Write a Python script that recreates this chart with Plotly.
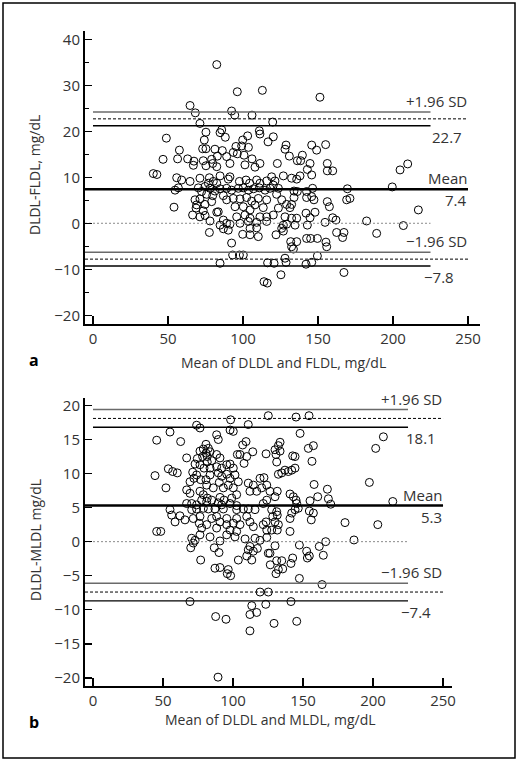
import plotly.graph_objects as go

# ---------------- Panel a data: (mean of DLDL & FLDL, DLDL-FLDL) ----------------
A_X = [82.5, 96.2, 112.9, 64.7, 68.2, 92.4, 94.5, 106.0, 71.3, 75.3, 85.8, 84.7, 88.2, 110.9, 111.3,
       103.1, 99.8, 116.7, 48.9, 74.2, 73.1, 75.3, 81.3, 86.2, 95.3, 99.1, 103.6, 57.6, 46.7, 56.4,
       63.1, 67.3, 73.5, 79.1, 82.9, 89.1, 93.5, 96.2, 100.7, 106.0, 66.9, 75.3, 79.8, 82.5, 91.3,
       101.3, 108.0, 111.3, 40.2, 42.6, 84.7,
       151.3, 119.8, 120.2, 128.7, 128.0, 145.8, 149.1, 155.1, 130.9, 139.6, 122.9, 136.2, 138.4,
       144.7, 156.2, 142.9, 156.2, 159.8, 204.7, 209.8,
       55.8, 59.1, 64.7, 71.3, 77.6, 80.2, 76.9, 82.5, 90.2, 91.3, 97.6, 102.0, 104.4, 109.1, 111.3,
       115.8, 54.7, 56.9, 70.2, 74.7, 72.4, 78.0, 81.3, 84.7, 89.1, 92.4, 96.9, 100.2, 103.6, 107.0,
       110.9, 114.7, 68.0, 71.3, 75.8, 79.8, 69.1, 74.7, 79.1, 86.9, 89.1, 93.5, 98.0, 102.4, 105.8,
       110.2, 115.8, 54.0, 68.7, 73.5, 83.5, 94.7, 100.2, 104.7, 108.0, 113.5, 66.4, 71.3, 74.7,
       78.0, 82.5, 86.9, 89.1, 95.8, 101.3, 104.7, 111.3, 115.8, 84.7, 91.3, 98.0, 103.6, 109.1,
       115.8, 86.9, 90.2, 104.7, 109.1, 77.6, 99.8, 104.7, 110.2, 92.4, 93.1, 97.6, 100.2, 84.7,
       116.4, 114.0, 116.2,
       119.1, 121.3, 120.2, 118.0, 123.6, 126.9, 132.4, 135.8, 138.0, 145.8, 134.0, 136.2, 142.4,
       146.4, 169.6, 199.5, 122.4, 125.8, 129.1, 132.4, 134.0, 142.4, 145.8, 147.3, 156.2, 157.6,
       169.1, 171.3, 131.3, 123.6, 120.2, 128.0, 132.4, 135.8, 142.0, 148.0, 144.7, 159.8, 162.0,
       154.7, 182.4, 216.9, 126.9, 129.1, 134.7, 142.9, 125.8, 126.9, 122.0, 189.1, 206.9, 162.4,
       167.3, 166.4, 142.4, 145.1, 149.6, 155.3, 155.8, 131.8, 135.8, 132.4, 133.6, 128.0, 128.7,
       120.7, 142.0, 145.8, 149.6, 125.3, 167.3]
A_Y = [34.5, 28.6, 28.9, 25.6, 24.0, 24.4, 23.5, 23.5, 21.7, 19.8, 20.3, 19.7, 18.7, 20.1, 19.4,
       19.0, 18.1, 17.7, 18.5, 18.1, 16.2, 16.2, 16.1, 15.8, 16.7, 16.8, 16.5, 15.9, 13.9, 14.0,
       14.0, 13.5, 13.6, 13.9, 14.6, 14.5, 15.4, 15.1, 14.8, 14.0, 12.6, 12.5, 13.0, 12.3, 13.0,
       12.7, 12.2, 13.0, 10.8, 10.6, 10.3,
       27.4, 22.0, 18.8, 17.0, 16.1, 17.0, 15.9, 17.1, 14.6, 14.8, 13.0, 13.6, 13.6,
       13.0, 13.0, 11.7, 11.4, 11.4, 11.6, 12.9,
       9.9, 9.4, 9.1, 9.8, 9.9, 9.1, 8.7, 8.7, 9.6, 10.1, 9.1, 9.4, 8.7, 9.4, 8.7,
       9.2, 7.2, 7.7, 7.7, 8.0, 6.9, 7.6, 7.0, 7.5, 7.6, 7.2, 7.6, 7.7, 7.2, 7.5,
       7.7, 7.2, 5.1, 5.3, 6.3, 6.0, 4.0, 4.1, 4.7, 6.0, 5.1, 5.4, 5.3, 5.6, 4.8,
       5.4, 5.1, 3.5, 3.3, 2.7, 2.5, 3.6, 3.6, 2.9, 4.0, 3.4, 1.8, 1.4, 1.7,
       0.5, 2.4, 0.7, 0.0, 1.4, 1.8, 1.1, 1.4, 1.4, -0.4, -0.2, 0.0, 0.4, 0.2,
       0.4, -1.2, -1.5, -1.1, -1.0, -2.0, -2.4, -2.5, -2.9, -4.3, -6.9, -6.9, -6.9, -8.7,
       -8.6, -12.7, -13.0,
       10.1, 9.2, 8.3, 7.6, 7.6, 10.3, 9.8, 9.6, 10.3, 10.5, 7.0, 6.9, 6.9,
       7.6, 7.5, 7.9, 6.3, 5.1, 4.1, 4.1, 5.6, 5.6, 5.8, 5.1, 4.7, 3.6,
       5.1, 5.4, 3.4, 3.3, 1.8, 1.4, 1.1, 1.1, 2.2, 2.4, 1.2, 1.2, 0.7,
       0.2, 0.5, 2.9, -0.4, -0.2, -0.4, -0.4, -1.1, -1.7, -2.5, -2.2, -0.5, -2.0,
       -2.0, -3.1, -3.3, -3.3, -3.3, -4.1, -5.1, -4.0, -4.0, -5.1, -5.6, -7.6, -8.5,
       -8.7, -8.9, -8.5, -7.1, -11.2, -10.7]

# ---------------- Panel b data: (mean of DLDL & MLDL, DLDL-MLDL) ----------------
B_X = [125.2, 98.3, 74.0, 76.4, 97.9, 100.2, 110.9, 55.0, 45.5, 62.6, 88.3, 89.5, 109.3, 106.9,
       80.7, 78.8, 82.4, 76.4, 80.7, 83.6, 78.3, 81.6, 74.5, 88.3, 90.7, 84.8, 81.6, 72.9, 76.4,
       79.3, 83.6, 88.3, 91.9, 95.5, 97.9, 100.2, 103.1, 105.0, 109.8, 114.1, 123.6, 107.9, 66.9,
       53.8, 56.9, 60.2, 44.3, 71.2, 74.0, 72.1, 76.9, 69.3, 80.7, 83.6, 89.5, 91.9, 90.2, 95.5,
       97.9, 101.4, 103.8, 96.6, 100.2, 93.1, 85.9, 81.2, 76.4, 78.8, 81.6, 77.6, 84.8, 90.7, 93.6,
       99.1, 102.6, 52.1, 66.9, 69.3, 110.9, 114.5, 112.1, 116.9, 120.5, 124.1, 119.3, 122.1,
       124.1, 121.6, 66.9, 70.5, 74.0, 81.2, 89.5, 91.9, 97.9, 102.6, 70.5, 74.0, 78.8, 82.4, 87.1,
       93.1, 102.6, 107.4, 110.9, 115.7, 55.0, 56.2, 58.6, 62.1, 65.7, 71.6, 76.4, 75.9, 81.2,
       84.8, 88.3, 90.7, 95.5, 95.5, 100.2, 102.6, 105.0, 109.8, 112.1, 114.5, 123.6, 124.1, 121.6,
       77.6, 88.3, 97.9, 102.6, 45.5, 48.4,
       145.0, 154.3, 147.9, 207.4, 201.9, 133.6, 132.4, 130.0, 133.6, 130.7, 131.2, 142.6, 144.3,
       153.8, 157.4, 156.4, 137.1, 139.5, 141.9, 144.3, 132.4, 134.8, 157.9, 167.4, 160.5, 197.4,
       126.4, 131.6, 130.0, 140.7, 143.1, 145.0, 145.5, 155.0, 168.1, 169.8, 214.1, 127.6, 131.2,
       128.4, 131.6, 130.0, 132.4, 127.6, 131.6, 140.7, 141.9, 144.3, 146.6, 154.5, 157.4, 155.9,
       140.7, 180.0, 203.4,
       70.5, 72.9, 76.4, 83.6, 90.7, 95.5, 101.4, 108.6, 115.7, 119.3, 124.1, 69.8, 71.6, 86.6,
       90.0, 112.1, 110.9, 114.5, 117.4, 109.8, 113.4, 125.2, 126.6, 103.8, 76.9, 87.1, 90.7, 96.6,
       95.9, 98.3, 69.3, 119.3, 125.2, 113.4, 123.4, 112.1, 116.9, 87.6, 95.0, 112.1, 89.3,
       130.0, 126.4, 131.2, 134.8, 132.4, 135.5, 130.7, 147.4, 152.6, 154.5, 153.1, 161.6, 166.2,
       164.5, 186.4, 142.6, 141.4, 147.4, 163.6, 141.4, 129.3, 145.5]
B_Y = [18.5, 17.9, 17.1, 16.7, 16.4, 16.2, 17.2, 16.1, 14.9, 14.7, 15.7, 15.0, 14.7, 14.2,
       14.3, 13.6, 13.7, 13.3, 13.0, 13.2, 12.5, 12.5, 12.2, 12.8, 12.3, 11.9, 11.7, 11.4, 11.3,
       10.8, 10.8, 11.0, 10.8, 11.3, 11.4, 10.8, 12.8, 12.8, 12.5, 13.2, 12.9, 11.5, 12.3,
       10.7, 10.3, 10.1, 9.7, 10.2, 9.8, 9.3, 9.1, 8.8, 9.1, 9.8, 10.1, 9.6, 8.7, 9.9,
       9.3, 9.8, 8.8, 8.3, 7.9, 7.9, 7.9, 8.3, 7.4, 6.9, 6.4, 6.1, 6.1, 6.5, 6.1,
       6.4, 6.9, 7.9, 7.6, 7.1, 8.6, 8.3, 7.4, 7.4, 7.9, 8.3, 9.3, 9.4,
       6.1, 5.6, 5.6, 5.6, 5.4, 5.9, 5.7, 5.4, 5.6, 5.3, 4.7, 4.8, 4.9, 4.8, 4.8,
       4.8, 4.7, 4.8, 4.8, 4.7, 4.7, 3.9, 2.9, 3.8, 3.2, 3.4, 3.7, 2.7, 2.5,
       3.4, 3.7, 2.9, 3.4, 2.5, 2.7, 3.4, 2.5, 3.7, 2.9, 2.2, 2.9, 1.7, 2.5,
       2.0, 2.0, 1.7, 1.5, 1.5, 1.5,
       18.3, 18.5, 15.9, 15.4, 13.7, 14.6, 14.1, 13.5, 13.3, 12.8, 11.7, 12.6, 12.5,
       13.7, 14.1, 11.8, 10.5, 10.3, 10.5, 10.8, 9.9, 10.1, 8.4, 7.7, 6.6, 8.7,
       7.4, 7.4, 6.6, 7.0, 6.6, 6.1, 5.6, 6.0, 6.3, 5.5, 5.9, 4.7, 4.4,
       3.7, 3.9, 2.9, 2.5, 1.7, 1.7, 3.4, 4.2, 4.7, 4.9, 4.5, 4.2, 3.2,
       1.5, 2.8, 2.5,
       0.5, 0.2, 1.0, 0.7, 0.1, 1.0, 0.7, 0.4, 0.5, 0.2, 0.6, -0.9, -0.2, -0.9,
       -1.6, -0.7, -1.2, -1.4, -1.0, -2.1, -2.7, -1.7, -3.4, -2.7, -2.7, -3.9, -3.8, -4.1,
       -4.7, -5.0, -8.8, -7.4, -7.4, -9.4, -9.2, -10.7, -10.4, -11.0, -11.4, -13.1, -19.9,
       -0.6, -1.7, -2.8, -2.8, -4.1, -4.0, -4.7, -0.5, -1.4, -2.1, -2.4, -0.7, 0.0,
       -2.0, 0.25, -2.4, -3.2, -5.4, -6.3, -8.8, -12.0, -11.7]

# ---------------- Agreement lines ----------------
A_UPPER = [24.2, 22.7, 21.2]   # +1.96 SD CI upper, limit, CI lower
A_MEAN = 7.4
A_LOWER = [-6.3, -7.8, -9.3]
B_UPPER = [19.4, 18.1, 16.8]
B_MEAN = 5.3
B_LOWER = [-6.1, -7.4, -8.7]

X_TICKS = [0, 50, 100, 150, 200, 250]
A_YTICKS = [-20, -10, 0, 10, 20, 30, 40]
B_YTICKS = [-20, -15, -10, -5, 0, 5, 10, 15, 20]

A_XR = [-5.33, 258.0]
A_YR = [-21.9, 41.8]
B_XR = [-5.71, 256.4]
B_YR = [-21.2, 21.1]

SHORT_END = 225
LONG_END = 250

FONT = "Open Sans"
TXT = "#333333"

fig = go.Figure()

marker = dict(symbol="circle-open", size=8, color="black", line=dict(width=1, color="black"))
fig.add_trace(go.Scatter(x=A_X, y=A_Y, mode="markers", marker=marker, xaxis="x", yaxis="y",
                         showlegend=False, hoverinfo="skip"))
fig.add_trace(go.Scatter(x=B_X, y=B_Y, mode="markers", marker=marker, xaxis="x2", yaxis="y2",
                         showlegend=False, hoverinfo="skip"))


def hline(xs, y, xa, ya, color, width, dash="solid"):
    fig.add_trace(go.Scatter(x=xs, y=[y, y], mode="lines", xaxis=xa, yaxis=ya,
                             line=dict(color=color, width=width, dash=dash),
                             showlegend=False, hoverinfo="skip"))


for (upper, mean, lower, xr, xa, ya) in [(A_UPPER, A_MEAN, A_LOWER, A_XR, "x", "y"),
                                         (B_UPPER, B_MEAN, B_LOWER, B_XR, "x2", "y2")]:
    hline([0, SHORT_END], upper[0], xa, ya, "#6a6a6a", 1.6)
    hline([0, LONG_END], upper[1], xa, ya, "black", 1, "3px,2px")
    hline([0, SHORT_END], upper[2], xa, ya, "black", 1.4)
    hline([xr[0], LONG_END], mean, xa, ya, "black", 2.4)
    hline([xr[0], SHORT_END], 0, xa, ya, "#8a8a8a", 1, "2px,2px")
    hline([xr[0], SHORT_END], lower[0], xa, ya, "#6a6a6a", 1.6)
    hline([xr[0], LONG_END], lower[1], xa, ya, "black", 1, "3px,2px")
    hline([xr[0], SHORT_END], lower[2], xa, ya, "black", 1.4)

annotations = []


def label(text, x, y, xref, yref, yanchor, size=15, xanchor="right"):
    annotations.append(dict(text=text, x=x, y=y, xref=xref, yref=yref, xanchor=xanchor,
                            yanchor=yanchor, showarrow=False,
                            font=dict(family=FONT, size=size, color=TXT), borderpad=0))


# panel a labels
label("+1.96 SD", 250, A_UPPER[0], "x", "y", "bottom")
label("%.1f" % A_UPPER[1], 246.5, A_UPPER[2], "x", "y", "top")
label("Mean", 250, A_MEAN, "x", "y", "bottom")
label("%.1f" % A_MEAN, 250, A_MEAN, "x", "y", "top")
label("\u22121.96 SD", 250, A_LOWER[0], "x", "y", "bottom")
label("\u2212%.1f" % abs(A_LOWER[1]), 241, A_LOWER[2], "x", "y", "top")
# panel b labels
label("+1.96 SD", 250, B_UPPER[0], "x2", "y2", "bottom")
label("%.1f" % B_UPPER[1], 246, B_UPPER[2], "x2", "y2", "top")
label("Mean", 250, B_MEAN, "x2", "y2", "bottom")
label("%.1f" % B_MEAN, 250, B_MEAN, "x2", "y2", "top")
label("\u22121.96 SD", 250, B_LOWER[0], "x2", "y2", "bottom")
label("\u2212%.1f" % abs(B_LOWER[1]), 242, B_LOWER[2], "x2", "y2", "top")

# axis titles and panel letters (paper coords: x=(px-85)/395, y=(686-py)/655)
annotations.append(dict(text="DLDL-FLDL, mg/dL", x=(35 - 85) / 395, y=(686 - 175) / 655,
                        xref="paper", yref="paper", textangle=-90, showarrow=False,
                        xanchor="center", yanchor="middle",
                        font=dict(family=FONT, size=14, color=TXT)))
annotations.append(dict(text="DLDL-MLDL mg/dL", x=(35 - 85) / 395, y=(686 - 540) / 655,
                        xref="paper", yref="paper", textangle=-90, showarrow=False,
                        xanchor="center", yanchor="middle",
                        font=dict(family=FONT, size=14, color=TXT)))
annotations.append(dict(text="Mean of DLDL and FLDL, mg/dL", x=(283 - 85) / 395,
                        y=(686 - 362) / 655, xref="paper", yref="paper", showarrow=False,
                        xanchor="center", yanchor="middle",
                        font=dict(family=FONT, size=14, color=TXT)))
annotations.append(dict(text="Mean of DLDL and MLDL, mg/dL", x=(270 - 85) / 395,
                        y=(686 - 720) / 655, xref="paper", yref="paper", showarrow=False,
                        xanchor="center", yanchor="middle",
                        font=dict(family=FONT, size=14, color=TXT)))
annotations.append(dict(text="<b>a</b>", x=(34 - 85) / 395, y=(686 - 360) / 655,
                        xref="paper", yref="paper", showarrow=False,
                        xanchor="center", yanchor="middle",
                        font=dict(family=FONT, size=16, color="black")))
annotations.append(dict(text="<b>b</b>", x=(34 - 85) / 395, y=(686 - 722) / 655,
                        xref="paper", yref="paper", showarrow=False,
                        xanchor="center", yanchor="middle",
                        font=dict(family=FONT, size=16, color="black")))

axis_common = dict(showline=True, linewidth=2, linecolor="black", showgrid=False,
                   zeroline=False, ticks="inside", tickcolor="black", tickwidth=1.5,
                   tickfont=dict(family=FONT, size=15, color=TXT), mirror=False)

fig.update_layout(
    width=518, height=761, autosize=False,
    margin=dict(l=85, r=38, t=31, b=75),
    paper_bgcolor="white", plot_bgcolor="white",
    xaxis=dict(domain=[0, 1], anchor="y", range=A_XR, tickvals=X_TICKS, ticklen=8,
               **axis_common),
    yaxis=dict(domain=[(686 - 324) / 655, 1], anchor="x", range=A_YR, tickvals=A_YTICKS,
               ticklen=7,
               minor=dict(ticks="inside", ticklen=4, tickvals=[-15, -5, 5, 15, 25, 35],
                          tickcolor="black", tickwidth=1.2),
               **axis_common),
    xaxis2=dict(domain=[0, (452 - 85) / 395], anchor="y2", range=B_XR, tickvals=X_TICKS,
                ticklen=8, **axis_common),
    yaxis2=dict(domain=[0, (686 - 398) / 655], anchor="x2", range=B_YR, tickvals=B_YTICKS,
                ticklen=7, **axis_common),
    annotations=annotations,
    shapes=[dict(type="rect", xref="paper", yref="paper",
                 x0=(3 - 85) / 395, x1=(515 - 85) / 395,
                 y0=(686 - 758) / 655, y1=(686 - 3) / 655,
                 line=dict(color="black", width=1.5), fillcolor="rgba(0,0,0,0)")],
)

# remove the browser's default 8px body margin so the figure sits at the page origin
fig.write_html("out.html",
               config={"displayModeBar": False, "staticPlot": True},
               post_script="document.body.style.margin='0px';document.body.style.padding='0px';"
                           "document.body.style.overflow='hidden';")
